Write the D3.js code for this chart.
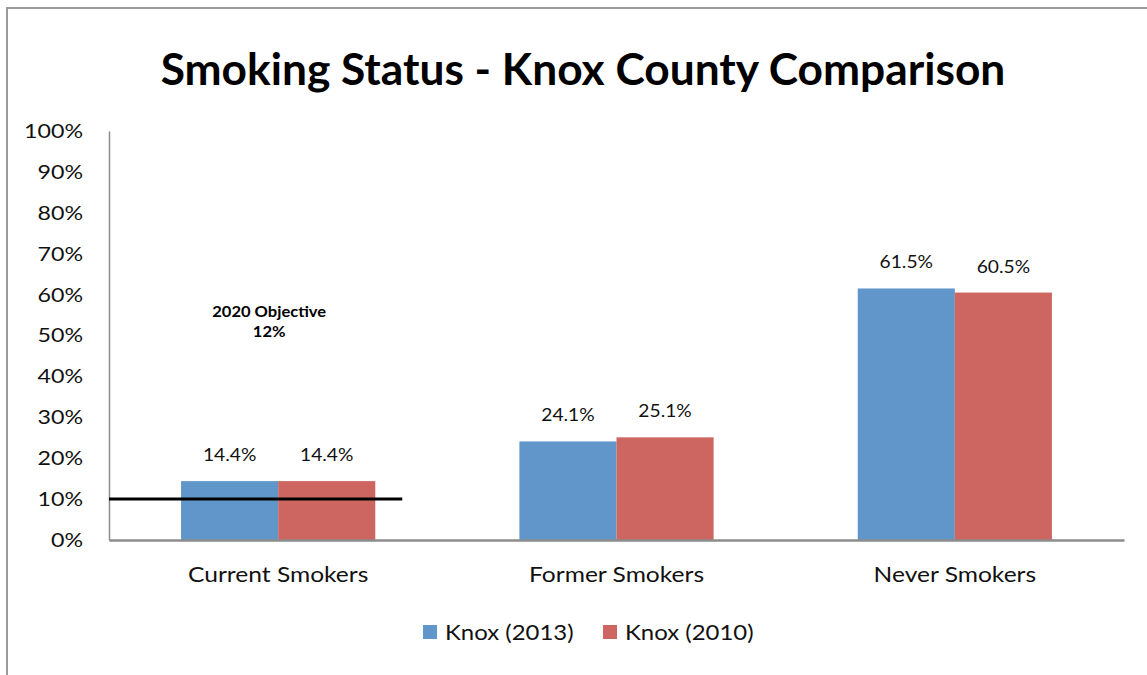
<!DOCTYPE html>
<html>
<head>
<meta charset="utf-8">
<script src="https://cdn.jsdelivr.net/npm/d3@7"></script>
<style>
  body { margin: 0; background: #fff; }
  svg { display: block; font-family: Lato, "Open Sans", sans-serif; }
</style>
</head>
<body>
<div id="chart"></div>
<script>
'use strict';

// data
const categories = ['Current Smokers', 'Former Smokers', 'Never Smokers']
const series_names = ['Knox (2013)', 'Knox (2010)']
const knox_2013 = [14.4, 24.1, 61.5]
const knox_2010 = [14.4, 25.1, 60.5]
const y_ticks = [0, 10, 20, 30, 40, 50, 60, 70, 80, 90, 100]
const objective_value = 10 // where the black line sits
const objective_label = ['2020 Objective', '12%']
const colors = ['#6096CA', '#CD6660']

const dimensions = {
  width: 1147,
  height: 675,
  margin: { top: 131, bottom: 135, left: 109, right: 23 }
}
dimensions.ctrWidth = dimensions.width - dimensions.margin.left - dimensions.margin.right
dimensions.ctrHeight = dimensions.height - dimensions.margin.top - dimensions.margin.bottom

// the source text is a little wider than Lato, so stretch it sideways
const stretch = function(sel, k){
  sel.each(function(){
    const w = this.getComputedTextLength()
    d3.select(this)
      .attr('textLength', w * k)
      .attr('lengthAdjust', 'spacingAndGlyphs')
  })
}

const svg = d3.select('#chart')
  .append('svg')
  .attr('width', dimensions.width)
  .attr('height', dimensions.height)

// outer frame (only top and left edges show)
svg.append('path')
  .attr('d', `M7,675 V8 H1147`)
  .attr('fill', 'none')
  .attr('stroke', '#9a9a9a')
  .attr('stroke-width', 2)

// title, squeezed to the width it has in the picture
const title = svg.append('text')
  .attr('x', 583)
  .attr('y', 85)
  .attr('text-anchor', 'middle')
  .style('font-weight', 'bold')
  .style('font-size', '40px')
  .text('Smoking Status - Knox County Comparison')
const title_w = title.node().getComputedTextLength()
title.style('font-size', (40 * 845 / title_w) + 'px')

const chart_g = svg.append('g')
  .attr('transform', `translate(${dimensions.margin.left}, ${dimensions.margin.top})`)

// scales
const xScale = d3.scaleBand()
  .domain(categories)
  .range([0, dimensions.ctrWidth])
  .paddingInner(0.426)
  .paddingOuter(0.213)

const xSub = d3.scaleBand()
  .domain(series_names)
  .range([0, xScale.bandwidth()])

const yScale = d3.scaleLinear()
  .domain([0, 100])
  .range([dimensions.ctrHeight, 0])

// bars
const rows = categories.map((c, i) => ({
  category: c,
  values: [
    { name: series_names[0], value: knox_2013[i], color: colors[0] },
    { name: series_names[1], value: knox_2010[i], color: colors[1] }
  ]
}))

const group = chart_g.selectAll('g.cat')
  .data(rows)
  .join('g')
  .attr('class', 'cat')
  .attr('transform', d => `translate(${xScale(d.category)}, 0)`)

group.selectAll('rect')
  .data(d => d.values)
  .join('rect')
  .attr('x', d => xSub(d.name))
  .attr('y', d => yScale(d.value))
  .attr('width', xSub.bandwidth())
  .attr('height', d => dimensions.ctrHeight - yScale(d.value))
  .attr('fill', d => d.color)

// value labels
group.selectAll('text')
  .data(d => d.values)
  .join('text')
  .attr('x', d => xSub(d.name) + xSub.bandwidth() / 2)
  .attr('y', d => yScale(d.value) - 20)
  .attr('text-anchor', 'middle')
  .style('font-size', '17px')
  .attr('fill', '#111')
  .text(d => d.value.toFixed(1) + '%')
  .call(stretch, 1.13)

// y axis
const yAxis = d3.axisLeft(yScale)
  .tickValues(y_ticks)
  .tickSize(0)
  .tickPadding(26)
  .tickFormat(d => d + '%')
const yAxisGroup = chart_g.append('g')
  .call(yAxis)
yAxisGroup.select('.domain').attr('stroke', '#8c8c8c').attr('stroke-width', 1.5)
yAxisGroup.selectAll('text')
  .style('font-size', '20px')
  .style('font-family', 'Lato, "Open Sans", sans-serif')
  .attr('fill', '#111')
  .call(stretch, 1.16)

// x axis
const xAxis = d3.axisBottom(xScale)
  .tickSize(0)
  .tickPadding(27)
const xAxisGroup = chart_g.append('g')
  .attr('transform', `translate(0, ${dimensions.ctrHeight})`)
  .call(xAxis)
xAxisGroup.select('.domain').attr('stroke', '#8c8c8c').attr('stroke-width', 2.5)
xAxisGroup.selectAll('text')
  .style('font-size', '21px')
  .style('font-family', 'Lato, "Open Sans", sans-serif')
  .attr('fill', '#111')
  .call(stretch, 1.17)

// objective line over the first category
chart_g.append('line')
  .attr('x1', 0)
  .attr('x2', xScale(categories[0]) + xScale.bandwidth() + 27)
  .attr('y1', yScale(objective_value))
  .attr('y2', yScale(objective_value))
  .attr('stroke', '#000')
  .attr('stroke-width', 3)

const obj_x = xScale(categories[0]) + xScale.bandwidth() / 2 - 9
chart_g.append('text')
  .attr('x', obj_x)
  .attr('y', yScale(54.5))
  .attr('text-anchor', 'middle')
  .style('font-size', '14.5px')
  .style('font-weight', 'bold')
  .selectAll('tspan')
  .data(objective_label)
  .join('tspan')
  .attr('x', obj_x)
  .attr('dy', (d, i) => i === 0 ? 0 : 20)
  .text(d => d)
  .call(stretch, 1.14)

// legend
const legend = svg.append('g')
  .attr('transform', 'translate(423, 625)')
const legend_x = [0, 180]
const legend_item = legend.selectAll('g')
  .data(series_names)
  .join('g')
  .attr('transform', (d, i) => `translate(${legend_x[i]}, 0)`)
legend_item.append('rect')
  .attr('width', 14)
  .attr('height', 14)
  .attr('fill', (d, i) => colors[i])
legend_item.append('text')
  .attr('x', 22)
  .attr('y', 15)
  .style('font-size', '21px')
  .attr('fill', '#111')
  .text(d => d)
  .call(stretch, 1.14)
</script>
</body>
</html>
